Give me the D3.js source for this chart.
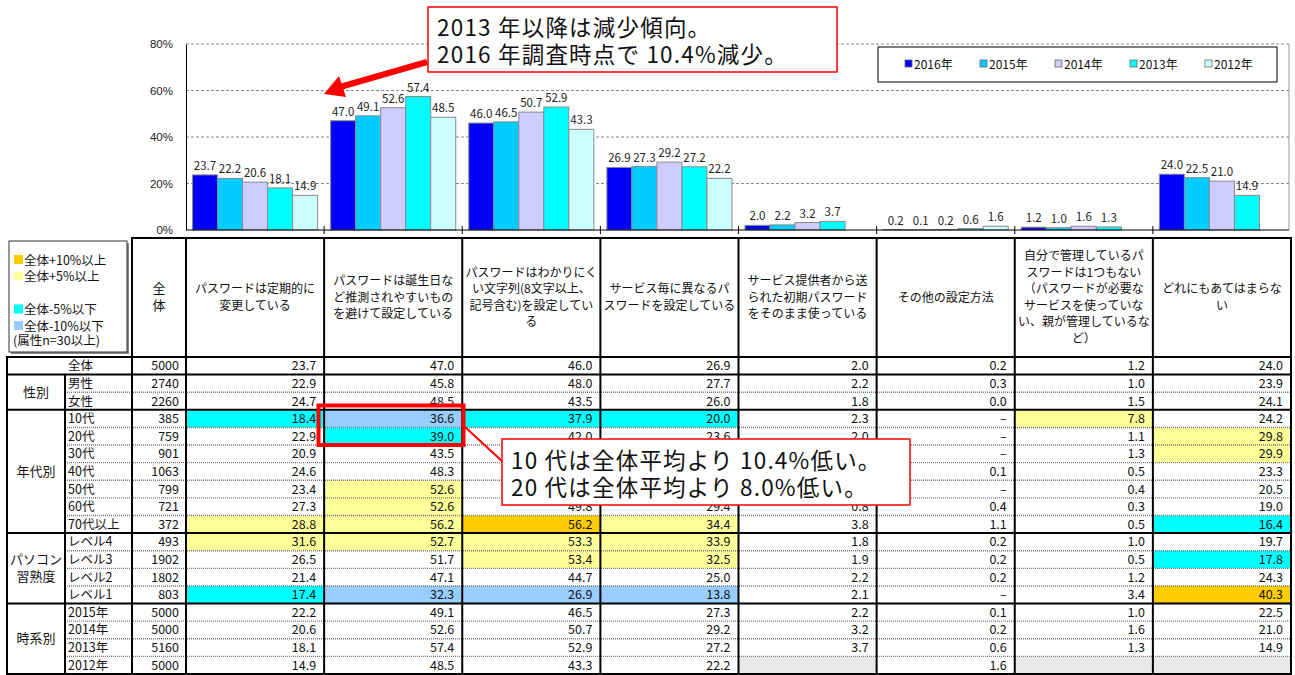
<!DOCTYPE html>
<html>
<head>
<meta charset="utf-8">
<script src="https://cdn.jsdelivr.net/npm/d3@7"></script>
<style>
  body { margin: 0; background: #fff; }
  svg { font-family: "Noto Sans CJK JP", "Liberation Sans", sans-serif; }
</style>
</head>
<body>
<div id="chart"></div>
<script>
// ---- data ----
const categories = [
  "パスワードは定期的に\n変更している",
  "パスワードは誕生日な\nど推測されやすいもの\nを避けて設定している",
  "パスワードはわかりにく\nい文字列(8文字以上、\n記号含む)を設定してい\nる",
  "サービス毎に異なるパ\nスワードを設定している",
  "サービス提供者から送\nられた初期パスワード\nをそのまま使っている",
  "その他の設定方法",
  "自分で管理しているパ\nスワードは1つもない\n（パスワードが必要な\nサービスを使っていな\nい、親が管理しているな\nど）",
  "どれにもあてはまらな\nい"
];
const years = ["2016年", "2015年", "2014年", "2013年", "2012年"];
const v2016 = [23.7, 47.0, 46.0, 26.9, 2.0, 0.2, 1.2, 24.0];
const v2015 = [22.2, 49.1, 46.5, 27.3, 2.2, 0.1, 1.0, 22.5];
const v2014 = [20.6, 52.6, 50.7, 29.2, 3.2, 0.2, 1.6, 21.0];
const v2013 = [18.1, 57.4, 52.9, 27.2, 3.7, 0.6, 1.3, 14.9];
const v2012 = [14.9, 48.5, 43.3, 22.2, null, 1.6, null, null];
const yTicks = [0, 20, 40, 60, 80];

const rowGroup = ["", "性別", "性別",
  "年代別", "年代別", "年代別", "年代別", "年代別", "年代別", "年代別",
  "パソコン\n習熟度", "パソコン\n習熟度", "パソコン\n習熟度", "パソコン\n習熟度",
  "時系別", "時系別", "時系別", "時系別"];
const rowLabels = ["全体", "男性", "女性", "10代", "20代", "30代", "40代", "50代", "60代", "70代以上",
  "レベル4", "レベル3", "レベル2", "レベル1", "2015年", "2014年", "2013年", "2012年"];
const rowN = [5000, 2740, 2260, 385, 759, 901, 1063, 799, 721, 372, 493, 1902, 1802, 803, 5000, 5000, 5160, 5000];
const rowValues = [
  [23.7, 47.0, 46.0, 26.9, 2.0, 0.2, 1.2, 24.0],
  [22.9, 45.8, 48.0, 27.7, 2.2, 0.3, 1.0, 23.9],
  [24.7, 48.5, 43.5, 26.0, 1.8, 0.0, 1.5, 24.1],
  [18.4, 36.6, 37.9, 20.0, 2.3, "–", 7.8, 24.2],
  [22.9, 39.0, 42.0, 23.6, 2.0, "–", 1.1, 29.8],
  [20.9, 43.5, 44.2, 25.1, 1.7, "–", 1.3, 29.9],
  [24.6, 48.3, 45.8, 26.3, 2.3, 0.1, 0.5, 23.3],
  [23.4, 52.6, 48.9, 28.1, 1.5, "–", 0.4, 20.5],
  [27.3, 52.6, 49.8, 29.4, 0.8, 0.4, 0.3, 19.0],
  [28.8, 56.2, 56.2, 34.4, 3.8, 1.1, 0.5, 16.4],
  [31.6, 52.7, 53.3, 33.9, 1.8, 0.2, 1.0, 19.7],
  [26.5, 51.7, 53.4, 32.5, 1.9, 0.2, 0.5, 17.8],
  [21.4, 47.1, 44.7, 25.0, 2.2, 0.2, 1.2, 24.3],
  [17.4, 32.3, 26.9, 13.8, 2.1, "–", 3.4, 40.3],
  [22.2, 49.1, 46.5, 27.3, 2.2, 0.1, 1.0, 22.5],
  [20.6, 52.6, 50.7, 29.2, 3.2, 0.2, 1.6, 21.0],
  [18.1, 57.4, 52.9, 27.2, 3.7, 0.6, 1.3, 14.9],
  [14.9, 48.5, 43.3, 22.2, null, 1.6, null, null]
];
const legendLabels = ["全体+10%以上", "全体+5%以上", "", "全体-5%以下", "全体-10%以下"];
const noteTop = ["2013 年以降は減少傾向。", "2016 年調査時点で 10.4%減少。"];
const noteTable = ["10 代は全体平均より 10.4%低い。", "20 代は全体平均より 8.0%低い。"];

// ---- styles ----
const yearColors = ["#0000FF", "#00CCFF", "#CCCCFF", "#00FFFF", "#CCFFFF"];
const hlColors = {o: "#FFCC00", y: "#FFFF99", c: "#00FFFF", b: "#99CCFF"};
const legendKeys = ["o", "y", null, "c", "b"];
const red = "#FF0000";

const W = 1295, H = 675;
const svg = d3.select("#chart").append("svg")
  .attr("width", W).attr("height", H);

// shared column scale (chart groups line up with table columns)
const x = d3.scaleBand().domain(categories).range([186, 1291]);
const xSub = d3.scaleBand().domain(years).range([0, x.bandwidth()])
  .paddingInner(0).paddingOuter(0.26);
const y = d3.scaleLinear().domain([0, 80]).range([230, 44]);
const plotR = 1289;

// ---- bar chart ----
const chart = svg.append("g");

// grid
chart.selectAll("line.grid")
  .data(yTicks.filter(d => d > 0))
  .join("line")
  .attr("x1", 186).attr("x2", plotR)
  .attr("y1", d => y(d)).attr("y2", d => y(d))
  .attr("stroke", "#888").attr("stroke-width", 1)
  .attr("stroke-dasharray", "3,2");
chart.append("line")
  .attr("x1", plotR).attr("x2", plotR).attr("y1", y(80)).attr("y2", y(0))
  .attr("stroke", "#999");

const series = [v2016, v2015, v2014, v2013, v2012];
const bars = [];
series.forEach((s, i) => s.forEach((v, j) => {
  if (v != null) bars.push({year: years[i], cat: categories[j], v, color: yearColors[i]});
}));

chart.selectAll("rect.bar")
  .data(bars)
  .join("rect")
  .attr("x", d => x(d.cat) + xSub(d.year))
  .attr("y", d => y(d.v))
  .attr("width", xSub.bandwidth())
  .attr("height", d => y(0) - y(d.v))
  .attr("fill", d => d.color)
  .attr("stroke", "#8a8a8a").attr("stroke-width", 1);

chart.selectAll("text.lbl")
  .data(bars)
  .join("text")
  .attr("x", d => x(d.cat) + xSub(d.year) + xSub.bandwidth() / 2)
  .attr("y", d => y(d.v) - 5)
  .attr("text-anchor", "middle")
  .attr("font-size", 11.5)
  .attr("fill", "#222")
  .text(d => d3.format(".1f")(d.v));

// y axis
const yAxis = chart.append("g")
  .attr("transform", "translate(186,0)")
  .call(d3.axisLeft(y).tickValues(yTicks).tickFormat(d => d + "%").tickSize(0).tickPadding(13));
yAxis.select(".domain").attr("stroke", "#000");
yAxis.selectAll("text").attr("font-size", 11.5).attr("fill", "#222");

// x axis (ticks between groups)
chart.append("line")
  .attr("x1", 186).attr("x2", plotR).attr("y1", y(0)).attr("y2", y(0))
  .attr("stroke", "#000");
chart.selectAll("line.xt")
  .data(categories.slice(1))
  .join("line")
  .attr("x1", d => x(d)).attr("x2", d => x(d))
  .attr("y1", y(0) - 4).attr("y2", y(0) + 4)
  .attr("stroke", "#000");

// year legend
const lg = chart.append("g");
lg.append("rect").attr("x", 878).attr("y", 47).attr("width", 399).attr("height", 35)
  .attr("fill", "#fff").attr("stroke", "#000");
const lgItem = lg.selectAll("g.item").data(years).join("g")
  .attr("transform", (d, i) => `translate(${905 + i * 75},64)`);
lgItem.append("rect").attr("x", 0).attr("y", -4).attr("width", 7).attr("height", 7)
  .attr("fill", (d, i) => yearColors[i]).attr("stroke", "#666").attr("stroke-width", 0.8);
lgItem.append("text").attr("x", 9).attr("y", 4.5).attr("font-size", 12).attr("fill", "#111").text(d => d);

// ---- table ----
const tbl = svg.append("g");
const rowY = d3.scaleBand().domain(d3.range(rowLabels.length)).range([357, 674]);
const rh = rowY.bandwidth();
const isAttr = r => rowGroup[r] !== "" && rowGroup[r] !== "時系別";

// table callout box (values fully under it are not visible)
const note2 = {x: 502, y: 439, w: 408, h: 66};

function highlight(r, j) {
  const v = rowValues[r][j], base = rowValues[0][j];
  if (!isAttr(r) || typeof v !== "number") return null;
  const d = Math.round((v - base) * 10) / 10;
  if (d > 10) return "o";
  if (d > 5) return "y";
  if (d < -10) return "b";
  if (d < -5) return "c";
  return null;
}

const cells = [];
rowValues.forEach((row, r) => row.forEach((v, j) => cells.push({r, j, v, hl: highlight(r, j)})));

tbl.selectAll("rect.cell")
  .data(cells.filter(d => d.hl || d.v === null))
  .join("rect")
  .attr("x", d => x(categories[d.j]))
  .attr("y", d => rowY(d.r))
  .attr("width", x.bandwidth())
  .attr("height", rh)
  .attr("fill", d => d.v === null ? "#E8E8E8" : hlColors[d.hl]);

const hidden = d => {
  const tx = x(categories[d.j]) + x.bandwidth() - 8, ty = rowY(d.r) + rh / 2;
  return tx > note2.x && tx < note2.x + note2.w && ty - 6 > note2.y && ty + 6 < note2.y + note2.h;
};

tbl.selectAll("text.val")
  .data(cells.filter(d => d.v !== null && !hidden(d)))
  .join("text")
  .attr("x", d => x(categories[d.j]) + x.bandwidth() - 8)
  .attr("y", d => rowY(d.r) + rh / 2 + 4.5)
  .attr("text-anchor", "end")
  .attr("font-size", 12.5)
  .attr("fill", "#111")
  .text(d => typeof d.v === "number" ? d3.format(".1f")(d.v) : d.v);

// row labels and n
tbl.selectAll("text.rl").data(rowLabels).join("text")
  .attr("x", 68).attr("y", (d, i) => rowY(i) + rh / 2 + 4.5)
  .attr("font-size", 12.5).attr("fill", "#111").text(d => d);
tbl.selectAll("text.rn").data(rowN).join("text")
  .attr("x", 179).attr("y", (d, i) => rowY(i) + rh / 2 + 4.5)
  .attr("text-anchor", "end").attr("font-size", 12.5).attr("fill", "#111").text(d => d);

// group labels
const groups = [];
rowGroup.forEach((g, i) => {
  if (!g) return;
  const last = groups[groups.length - 1];
  if (last && last.name === g) last.end = i; else groups.push({name: g, start: i, end: i});
});
groups.forEach(g => {
  const lines = g.name.split("\n");
  const cy = (rowY(g.start) + rowY(g.end) + rh) / 2;
  tbl.append("text")
    .attr("x", 36).attr("text-anchor", "middle")
    .attr("font-size", 13).attr("fill", "#111")
    .selectAll("tspan").data(lines).join("tspan")
    .attr("x", 36)
    .attr("y", (d, i) => cy + 4.5 + (i - (lines.length - 1) / 2) * 17)
    .text(d => d);
});

// row separators
const thickRows = [0, 1, 3, 10, 14, 18];
d3.range(rowLabels.length + 1).forEach(i => {
  const yy = i < rowLabels.length ? rowY(i) : 674;
  if (thickRows.includes(i)) {
    tbl.append("line").attr("x1", 6).attr("x2", 1292).attr("y1", yy).attr("y2", yy)
      .attr("stroke", "#000").attr("stroke-width", 2);
  } else {
    tbl.append("line").attr("x1", 65).attr("x2", 1291).attr("y1", yy).attr("y2", yy)
      .attr("stroke", "#777").attr("stroke-width", 1.4).attr("stroke-dasharray", "1,1");
  }
});

// vertical lines
const colEdges = categories.map(c => x(c)).concat([1291]);
[7, 132, 186].concat(colEdges).forEach(xx => {
  tbl.append("line").attr("x1", xx).attr("x2", xx).attr("y1", 357).attr("y2", 674)
    .attr("stroke", "#000").attr("stroke-width", 2);
});
tbl.append("line").attr("x1", 65).attr("x2", 65).attr("y1", rowY(1)).attr("y2", 674)
  .attr("stroke", "#000").attr("stroke-width", 2);

// header
tbl.append("line").attr("x1", 131).attr("x2", 1292).attr("y1", 238).attr("y2", 238)
  .attr("stroke", "#000").attr("stroke-width", 2);
[132, 186].concat(colEdges).forEach(xx => {
  tbl.append("line").attr("x1", xx).attr("x2", xx).attr("y1", 238).attr("y2", 357)
    .attr("stroke", "#000").attr("stroke-width", 2);
});
tbl.append("text").attr("text-anchor", "middle").attr("font-size", 13).attr("fill", "#111")
  .selectAll("tspan").data(["全", "体"]).join("tspan")
  .attr("x", 159).attr("y", (d, i) => 293 + i * 17).text(d => d);

categories.forEach(c => {
  const lines = c.split("\n");
  tbl.append("text").attr("text-anchor", "middle").attr("font-size", 12).attr("fill", "#111")
    .selectAll("tspan").data(lines).join("tspan")
    .attr("x", x(c) + x.bandwidth() / 2)
    .attr("y", (d, i) => 301.5 + (i - (lines.length - 1) / 2) * 16.5)
    .text(d => d);
});

// colour legend box
const cl = tbl.append("g");
cl.append("rect").attr("x", 11).attr("y", 243).attr("width", 118).attr("height", 111).attr("fill", "#888");
cl.append("rect").attr("x", 9).attr("y", 241).attr("width", 118).attr("height", 111)
  .attr("fill", "#fff").attr("stroke", "#333");
legendLabels.forEach((t, i) => {
  if (!t) return;
  const yy = 260 + i * 16.5;
  cl.append("rect").attr("x", 14).attr("y", yy - 5).attr("width", 9).attr("height", 9)
    .attr("fill", hlColors[legendKeys[i]]);
  cl.append("text").attr("x", 24).attr("y", yy + 4.5).attr("font-size", 12.5).attr("fill", "#111").text(t);
});
cl.append("text").attr("x", 13).attr("y", 345).attr("font-size", 12.5).attr("fill", "#111").text("(属性n=30以上)");

// ---- annotations ----
const ann = svg.append("g");
// top note with arrow
ann.append("rect").attr("x", 428).attr("y", 7).attr("width", 409).attr("height", 65)
  .attr("fill", "#fff").attr("stroke", red).attr("stroke-width", 1.5);
ann.append("text").attr("font-size", 22.5).attr("letter-spacing", 1.2).attr("fill", "#111")
  .selectAll("tspan").data(noteTop).join("tspan")
  .attr("x", 437).attr("y", (d, i) => 36 + i * 27).text(d => d);
ann.append("line").attr("x1", 427).attr("y1", 62).attr("x2", 340).attr("y2", 87)
  .attr("stroke", red).attr("stroke-width", 6);
ann.append("path").attr("d", "M324,94 L339,76 L346,97 Z").attr("fill", red);

// table note
ann.append("rect").attr("x", 318.5).attr("y", 405.5).attr("width", 145).attr("height", 39.5)
  .attr("fill", "none").attr("stroke", red).attr("stroke-width", 4);
ann.append("line").attr("x1", 465).attr("y1", 427).attr("x2", 503).attr("y2", 462)
  .attr("stroke", red).attr("stroke-width", 2);
ann.append("rect").attr("x", note2.x).attr("y", note2.y).attr("width", note2.w).attr("height", note2.h)
  .attr("fill", "#fff").attr("stroke", red).attr("stroke-width", 1.5);
ann.append("text").attr("font-size", 22.5).attr("letter-spacing", 1.2).attr("fill", "#111")
  .selectAll("tspan").data(noteTable).join("tspan")
  .attr("x", 511).attr("y", (d, i) => 469 + i * 27).text(d => d);
</script>
</body>
</html>
